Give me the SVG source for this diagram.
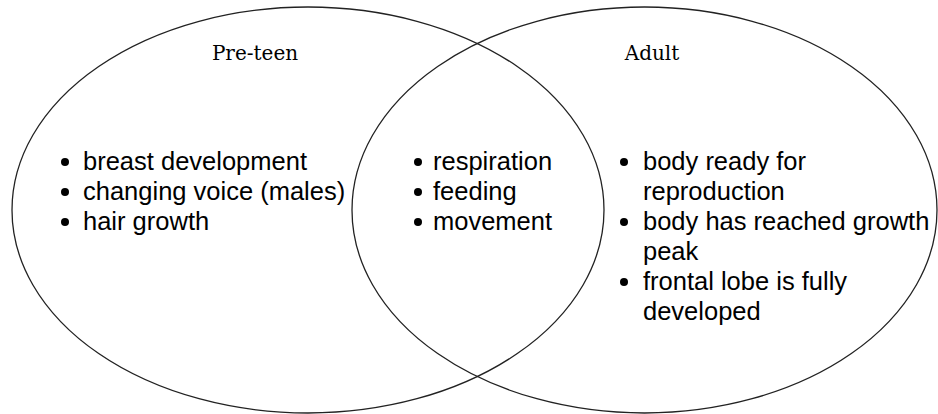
<svg xmlns="http://www.w3.org/2000/svg" width="938" height="414" viewBox="0 0 938 414">
<style>
.set{fill:none;stroke:#222;stroke-width:1.3}
.title{font-family:"DejaVu Serif","Liberation Serif",serif;font-size:20px;fill:#000;text-anchor:middle}
.item{font-family:"Liberation Sans",Arial,sans-serif;font-size:25.5px;fill:#000}
.dot{fill:#000}
</style>
<rect width="938" height="414" fill="#fff"/>
<g id="connectors"></g>
<g id="pre-teen">
<ellipse class="set" cx="308" cy="210" rx="296" ry="203"/>
<text class="title" x="255" y="60">Pre-teen</text>
<circle class="dot" cx="65" cy="162" r="4"/>
<circle class="dot" cx="65" cy="192" r="4"/>
<circle class="dot" cx="65" cy="222" r="4"/>
<text class="item" x="83" y="170">breast development</text>
<text class="item" x="83" y="200">changing voice (males)</text>
<text class="item" x="83" y="230">hair growth</text>
</g>
<g id="adult">
<ellipse class="set" cx="644.5" cy="210" rx="292.5" ry="203"/>
<text class="title" x="652" y="60">Adult</text>
<circle class="dot" cx="624" cy="162" r="4"/>
<circle class="dot" cx="624" cy="222" r="4"/>
<circle class="dot" cx="624" cy="282" r="4"/>
<text class="item" x="643" y="170">body ready for</text>
<text class="item" x="643" y="200">reproduction</text>
<text class="item" x="643" y="230">body has reached growth</text>
<text class="item" x="643" y="260">peak</text>
<text class="item" x="643" y="290">frontal lobe is fully</text>
<text class="item" x="643" y="320">developed</text>
</g>
<g id="both">
<circle class="dot" cx="418" cy="162" r="4"/>
<circle class="dot" cx="418" cy="192" r="4"/>
<circle class="dot" cx="418" cy="222" r="4"/>
<text class="item" x="433" y="170">respiration</text>
<text class="item" x="433" y="200">feeding</text>
<text class="item" x="433" y="230">movement</text>
</g>
</svg>
